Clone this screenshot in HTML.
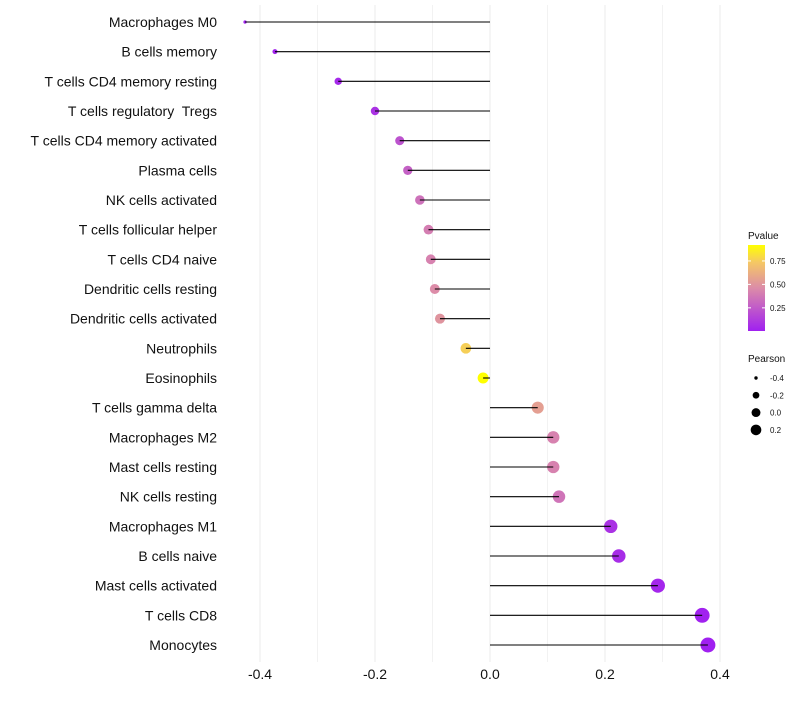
<!DOCTYPE html>
<html><head><meta charset="utf-8">
<style>
body{margin:0;background:#fff;font-family:"Liberation Sans",sans-serif;}
svg text{font-family:"Liberation Sans",sans-serif;white-space:pre;}
</style></head>
<body>
<svg id="chart" width="800" height="700" xmlns="http://www.w3.org/2000/svg"></svg>
<script>
const categories=["Macrophages M0","B cells memory","T cells CD4 memory resting","T cells regulatory  Tregs ","T cells CD4 memory activated","Plasma cells","NK cells activated","T cells follicular helper","T cells CD4 naive","Dendritic cells resting","Dendritic cells activated","Neutrophils","Eosinophils","T cells gamma delta","Macrophages M2","Mast cells resting","NK cells resting","Macrophages M1","B cells naive","Mast cells activated","T cells CD8","Monocytes"];
const pearson=[-0.426,-0.374,-0.264,-0.200,-0.157,-0.143,-0.122,-0.107,-0.103,-0.096,-0.087,-0.042,-0.012,0.083,0.110,0.110,0.120,0.210,0.224,0.292,0.369,0.379];
const pvalues=[0.01,0.02,0.04,0.08,0.22,0.28,0.35,0.40,0.42,0.46,0.50,0.76,0.92,0.55,0.42,0.42,0.36,0.08,0.06,0.03,0.01,0.003];
const xTicks=[-0.4,-0.2,0.0,0.2,0.4];
const xMinor=[-0.3,-0.1,0.1,0.3];
const pTicks=[0.25,0.5,0.75];
const sizeTicks=[-0.4,-0.2,0.0,0.2];

const svg=document.getElementById('chart');
const NS='http://www.w3.org/2000/svg';
function mk(tag,attrs,parent){const e=document.createElementNS(NS,tag);for(const k in attrs)e.setAttribute(k,attrs[k]);(parent||svg).appendChild(e);return e;}
const x0=490,kx=575;
function xs(v){return x0+v*kx;}
function ys(i){return 22+i*(623/21);}
const pMin=0.003,pMax=0.92;
const stops=[[0,[160,32,240]],[0.5,[220,140,168]],[0.8,[245,200,100]],[1,[255,255,0]]];
function col(p){let t=(p-pMin)/(pMax-pMin);t=Math.max(0,Math.min(1,t));
 for(let i=1;i<stops.length;i++){if(t<=stops[i][0]){const a=stops[i-1],b=stops[i];const f=(t-a[0])/(b[0]-a[0]);
 const c=a[1].map((v,j)=>Math.round(v+(b[1][j]-v)*f));return `rgb(${c.join(',')})`;}}return 'rgb(255,255,0)';}
function rad(v){return Math.sqrt(Math.max(2.25,2.8+(v+0.426)*66));}

xMinor.forEach(v=>{const l=mk('line',{x1:xs(v),x2:xs(v),y1:5,y2:662,stroke:'#f2f2f2','stroke-width':1});
});
xTicks.forEach(v=>{const l=mk('line',{x1:xs(v),x2:xs(v),y1:5,y2:662,stroke:'#ebebeb','stroke-width':1});

const t=mk('text',{x:xs(v),y:679,'text-anchor':'middle','font-size':14,fill:'#111'});t.textContent=v.toFixed(1);
});

categories.forEach((c,i)=>{const y=ys(i);
const t=mk('text',{x:217,y:y+5,'text-anchor':'end','font-size':14,fill:'#111'});t.textContent=c.replace(/\s+$/,'');

const pt=mk('circle',{cx:xs(pearson[i]),cy:y,r:rad(pearson[i]),fill:col(pvalues[i])});

const l=mk('line',{x1:xs(0),x2:xs(pearson[i]),y1:y,y2:y,stroke:'#000','stroke-width':1.1});

});

const lt=mk('text',{x:748,y:239,'font-size':10,fill:'#111'});lt.textContent='Pvalue';

const defs=mk('defs',{});const g=mk('linearGradient',{id:'gr',x1:0,y1:1,x2:0,y2:0},defs);
for(let i=0;i<=10;i++){const p=pMin+(pMax-pMin)*i/10;mk('stop',{offset:i/10,'stop-color':col(p)},g);}
const bar=mk('rect',{x:748,y:245,width:17,height:86,fill:'url(#gr)'});

function cy(p){return 331-(p-pMin)/(pMax-pMin)*86;}
pTicks.forEach(p=>{mk('line',{x1:748,x2:751,y1:cy(p),y2:cy(p),stroke:'#fff'});mk('line',{x1:762,x2:765,y1:cy(p),y2:cy(p),stroke:'#fff'});
const t=mk('text',{x:770,y:cy(p)+3,'font-size':8,fill:'#111'});t.textContent=p.toFixed(2);
});
const st=mk('text',{x:748,y:362,'font-size':10,fill:'#111'});st.textContent='Pearson';

sizeTicks.forEach((v,i)=>{const y=378+i*17.3;
const c=mk('circle',{cx:756,cy:y,r:rad(v)*0.8,fill:'#000'});

const t=mk('text',{x:770,y:y+3,'font-size':8,fill:'#111'});t.textContent=v.toFixed(1);
});
</script>
</body></html>
